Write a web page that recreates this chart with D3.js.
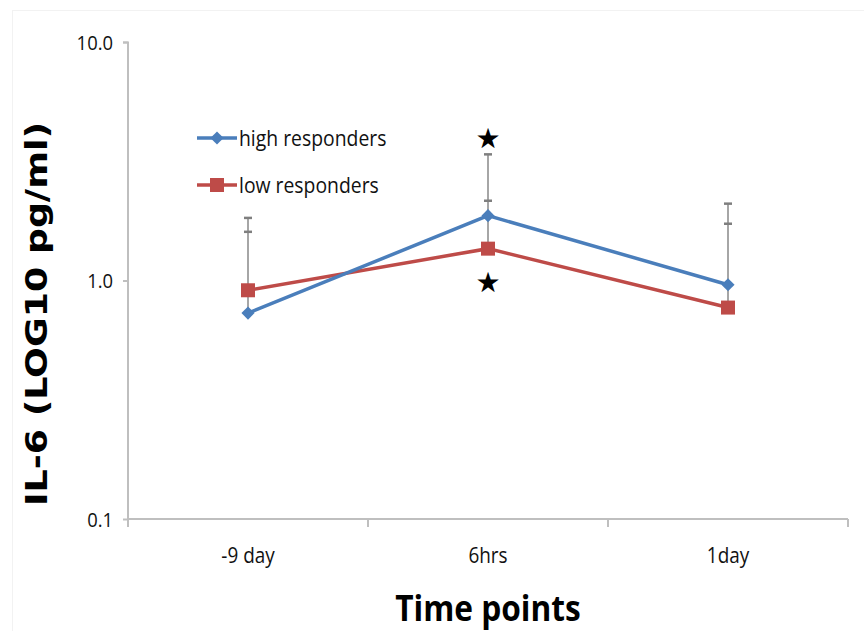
<!DOCTYPE html>
<html>
<head>
<meta charset="utf-8">
<script src="https://cdn.jsdelivr.net/npm/d3@7"></script>
<style>
  html, body { margin: 0; padding: 0; background: #fff; }
  svg { display: block; }
</style>
</head>
<body>
<svg id="chart" width="864" height="631"></svg>
<script>
// Time points and IL-6 means (pg/ml), with upper error-bar ends
const categories = ["-9 day", "6hrs", "1day"];
const highValues = [0.73, 1.87, 0.96];
const lowValues  = [0.91, 1.36, 0.77];
const highUpper  = [1.83, 3.38, 2.10];
const lowUpper   = [1.60, 2.16, 1.73];
const yTicks = [0.1, 1, 10];
const seriesNames = ["high responders", "low responders"];
const seriesColors = ["#4a7ebb", "#be4b48"];
// significance markers: [category, value where the star sits]
const stars = [["6hrs", 3.95], ["6hrs", 0.98]];

const svg = d3.select("#chart");
const W = 864, H = 631;
const margin = { left: 128, right: 16, top: 42, bottom: 112 };
const plotW = W - margin.left - margin.right;
const plotH = H - margin.top - margin.bottom;

const fontBody = "'Open Sans', 'Liberation Sans', sans-serif";

// squeeze a text selection horizontally to mimic a condensed face
function condense(sel, factor) {
  sel.each(function () {
    const len = this.getComputedTextLength();
    d3.select(this).attr("textLength", len * factor).attr("lengthAdjust", "spacingAndGlyphs");
  });
}

// faint outer frame of the chart area
svg.append("rect").attr("x", 12.5).attr("y", 10.5).attr("width", 860).attr("height", 640)
  .attr("fill", "none").attr("stroke", "#f2f2f2").attr("stroke-width", 1);

const g = svg.append("g").attr("transform", `translate(${margin.left},${margin.top})`);

const x = d3.scaleBand().domain(categories).range([0, plotW]).padding(0);
const y = d3.scaleLog().domain([0.1, 10]).range([plotH, 0]);
const cx = c => x(c) + x.bandwidth() / 2;

// y axis
const yAxis = g.append("g").call(
  d3.axisLeft(y).tickValues(yTicks).tickFormat(d3.format(".1f")).tickSize(5).tickPadding(10)
);
yAxis.select(".domain").attr("stroke", "#bfbfbf").attr("stroke-width", 2)
  .attr("d", `M-5,0.5H0V${plotH}`);
yAxis.selectAll(".tick line").attr("stroke", "#bfbfbf").attr("stroke-width", 2);
yAxis.selectAll(".tick text").attr("font-family", fontBody).attr("font-size", 20)
  .attr("fill", "#111").attr("dy", "0.36em").call(condense, 0.92);

// x axis with boundary ticks between categories
const xAxis = g.append("g").attr("transform", `translate(0,${plotH})`);
xAxis.append("path").attr("fill", "none").attr("stroke", "#bfbfbf").attr("stroke-width", 2)
  .attr("d", `M0,0H${plotW}`);
const boundaries = categories.map(c => x(c)).concat([plotW]);
xAxis.selectAll("line.b").data(boundaries).join("line")
  .attr("x1", d => d).attr("x2", d => d).attr("y1", 0).attr("y2", 8)
  .attr("stroke", "#bfbfbf").attr("stroke-width", 2);
xAxis.selectAll("text.cat").data(categories).join("text")
  .attr("x", d => cx(d)).attr("y", 44).attr("text-anchor", "middle")
  .attr("font-family", fontBody).attr("font-size", 21).attr("fill", "#111")
  .text(d => d).call(condense, 0.9);

// axis titles
svg.append("text").attr("x", margin.left + plotW / 2).attr("y", 621).attr("text-anchor", "middle")
  .attr("font-family", fontBody).attr("font-weight", "bold").attr("font-size", 36)
  .attr("fill", "#000").text("Time points").call(condense, 0.88);
svg.append("text")
  .attr("transform", "translate(47,314) rotate(-90)")
  .attr("text-anchor", "middle")
  .attr("font-family", "'DejaVu Sans', Verdana, sans-serif").attr("font-weight", "bold")
  .attr("font-size", 31).attr("fill", "#000")
  .attr("textLength", 384).attr("lengthAdjust", "spacingAndGlyphs")
  .text("IL-6 (LOG10 pg/ml)");

// error bars (upper only)
function errorBars(vals, ups) {
  categories.forEach((c, i) => {
    g.append("line").attr("x1", cx(c)).attr("x2", cx(c))
      .attr("y1", y(vals[i])).attr("y2", y(ups[i]))
      .attr("stroke", "#a6a6a6").attr("stroke-width", 2);
    g.append("line").attr("x1", cx(c) - 4).attr("x2", cx(c) + 4)
      .attr("y1", y(ups[i])).attr("y2", y(ups[i]))
      .attr("stroke", "#7f7f7f").attr("stroke-width", 2.5);
  });
}
errorBars(highValues, highUpper);
errorBars(lowValues, lowUpper);

const line = d3.line().x((d, i) => cx(categories[i])).y(d => y(d));

// low responders series
g.append("path").datum(lowValues).attr("d", line).attr("fill", "none")
  .attr("stroke", seriesColors[1]).attr("stroke-width", 3.5);
g.selectAll("rect.low").data(lowValues).join("rect")
  .attr("x", (d, i) => cx(categories[i]) - 7).attr("y", d => y(d) - 7)
  .attr("width", 14).attr("height", 14).attr("fill", seriesColors[1]);

// high responders series
g.append("path").datum(highValues).attr("d", line).attr("fill", "none")
  .attr("stroke", seriesColors[0]).attr("stroke-width", 3.5);
const diamond = d3.symbol().type(d3.symbolDiamond2).size(110);
g.selectAll("path.high").data(highValues).join("path")
  .attr("transform", (d, i) => `translate(${cx(categories[i])},${y(d)})`)
  .attr("d", diamond).attr("fill", seriesColors[0]);

// significance stars
g.selectAll("text.star").data(stars).join("text")
  .attr("x", d => cx(d[0])).attr("y", d => y(d[1]))
  .attr("text-anchor", "middle").attr("dy", "0.35em")
  .attr("font-family", "'DejaVu Sans', sans-serif").attr("font-size", 28).attr("fill", "#000")
  .text("\u2605");

// legend
const legend = svg.append("g").attr("transform", "translate(197,138)");
seriesNames.forEach((name, i) => {
  const row = legend.append("g").attr("transform", `translate(0,${i * 47})`);
  row.append("line").attr("x1", 0).attr("x2", 40).attr("y1", 0).attr("y2", 0)
    .attr("stroke", seriesColors[i]).attr("stroke-width", 3.5);
  if (i === 0) {
    row.append("path").attr("transform", "translate(20,0)").attr("d", diamond)
      .attr("fill", seriesColors[i]);
  } else {
    row.append("rect").attr("x", 13).attr("y", -7).attr("width", 14).attr("height", 14)
      .attr("fill", seriesColors[i]);
  }
  row.append("text").attr("x", 42).attr("y", 0).attr("dy", "0.35em")
    .attr("font-family", fontBody).attr("font-size", 22).attr("fill", "#111")
    .text(name).call(condense, 0.88);
});
</script>
</body>
</html>
